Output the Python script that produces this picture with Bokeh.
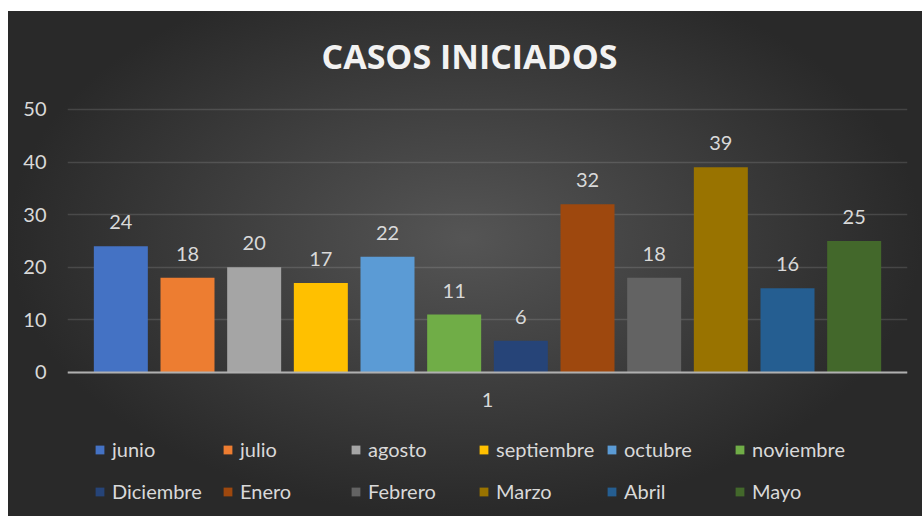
from bokeh.plotting import figure
from bokeh.models import ColumnDataSource, Range1d, FixedTicker, Legend, LegendItem, Span, Label
from bokeh.core.properties import value
from bokeh.embed import file_html
from bokeh.resources import INLINE

# ---- data ----
title_text = "CASOS INICIADOS"
category = ["1"]
months = ["junio", "julio", "agosto", "septiembre", "octubre", "noviembre",
          "Diciembre", "Enero", "Febrero", "Marzo", "Abril", "Mayo"]
values = [24, 18, 20, 17, 22, 11, 6, 32, 18, 39, 16, 25]
colors = ["#4472c4", "#ed7d31", "#a5a5a5", "#ffc000", "#5b9bd5", "#70ad47",
          "#264478", "#9e480e", "#636363", "#997300", "#255e91", "#43682b"]
y_ticks = [0, 10, 20, 30, 40, 50]

TXT = "#d9d9d9"
FONT = "Lato"

xs = list(range(len(months)))
src = ColumnDataSource(dict(x=xs, top=values, color=colors, mes=months,
                            lbl=[str(v) for v in values]))

# the frame covers the whole height so that title and legend live inside it
p = figure(width=914, height=505,
           x_range=Range1d(-0.8, len(months) - 0.2),
           y_range=Range1d(-27.4, 68.63),
           x_axis_location=None,
           output_backend="svg", toolbar_location=None,
           min_border_left=59, min_border_right=15,
           min_border_top=0, min_border_bottom=0,
           border_fill_alpha=0, background_fill_alpha=0,
           outline_line_color=None,
           styles={"background": "radial-gradient(ellipse farthest-side at 50% 45%, #555555 0%, #292929 100%)",
                   "margin-top": "11px", "margin-left": "8px"})

r = p.vbar(x="x", top="top", width=0.81, source=src,
           fill_color="color", line_color=None)

p.text(x="x", y="top", text="lbl", source=src, text_align="center",
       text_baseline="alphabetic", y_offset=-24,
       text_font=value(FONT), text_font_size="20px", text_color=TXT)

# y axis
p.yaxis.ticker = FixedTicker(ticks=y_ticks)
p.yaxis.axis_line_color = None
p.yaxis.major_tick_line_color = None
p.yaxis.minor_tick_line_color = None
p.yaxis.major_label_standoff = 15
p.yaxis.major_label_text_font = FONT
p.yaxis.major_label_text_font_size = "20px"
p.yaxis.major_label_text_color = TXT

p.ygrid.ticker = FixedTicker(ticks=y_ticks)
p.ygrid.grid_line_color = "white"
p.ygrid.grid_line_alpha = 0.13
p.ygrid.grid_line_width = 1.5
p.xgrid.grid_line_color = None

# horizontal (category) axis: line at 0 and the single category label
p.add_layout(Span(location=0, dimension="width", line_color="#b0b0b0", line_width=2))
center = (len(months) - 1) / 2
p.add_layout(Label(x=center, y=0, text=category[0], text_align="center",
                   text_baseline="alphabetic", y_offset=-28,
                   text_font=FONT, text_font_size="20px", text_color=TXT))

# title
p.add_layout(Label(x=402, y=461, x_units="screen", y_units="screen",
                   text=title_text, text_align="center", text_baseline="alphabetic",
                   text_font="Open Sans", text_font_style="bold",
                   text_font_size="34px", text_color="#f2f2f2"))

# legend
items = [LegendItem(label=m, renderers=[r], index=i) for i, m in enumerate(months)]
legend = Legend(items=items, location=(27, 8), orientation="horizontal", ncols=6,
                glyph_width=11, glyph_height=11, label_standoff=7,
                label_width=102, label_height=34, spacing=8,
                padding=0, margin=0, border_line_color=None,
                background_fill_alpha=0,
                label_text_font=FONT, label_text_font_size="20px",
                label_text_color=TXT)
p.add_layout(legend)

open("out.html", "w").write(file_html(p, INLINE))
